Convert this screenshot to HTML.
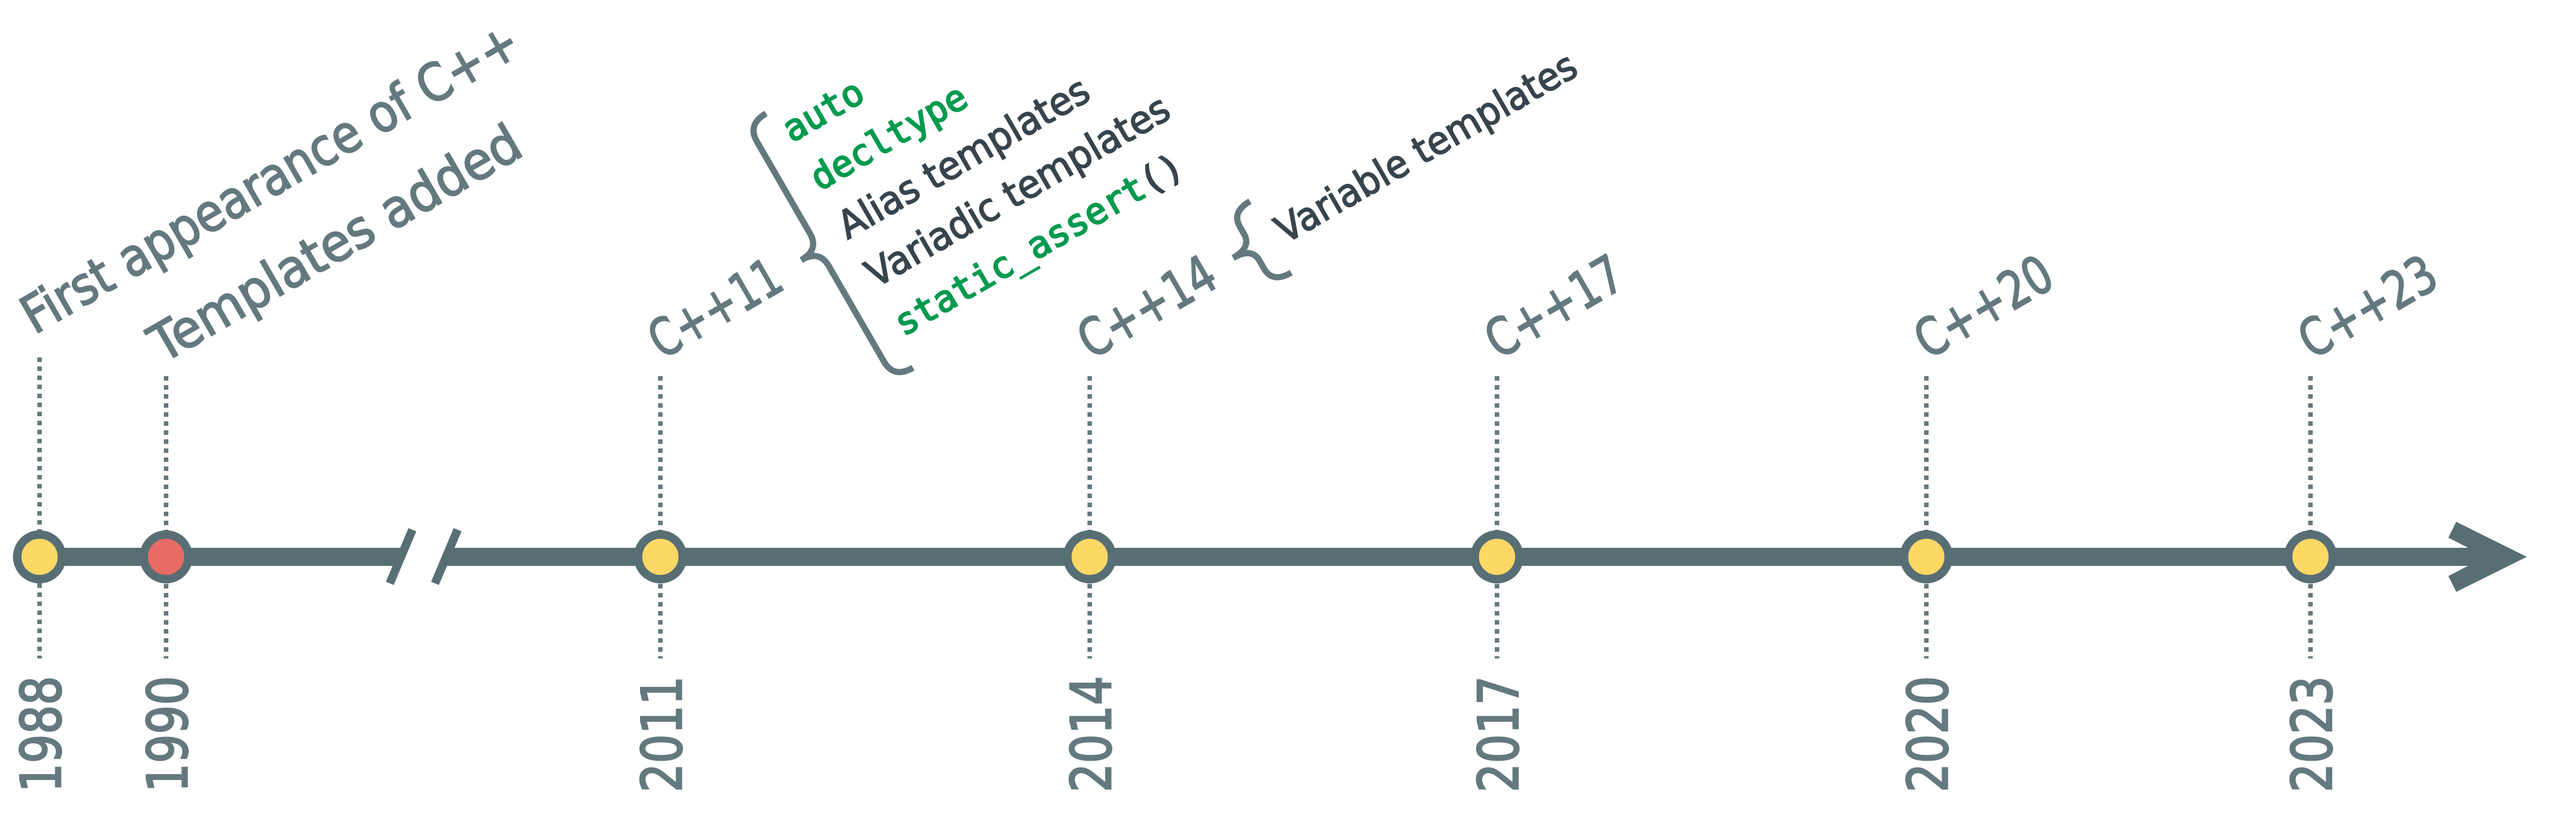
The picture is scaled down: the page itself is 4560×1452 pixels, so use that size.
<!DOCTYPE html>
<html><head><meta charset="utf-8"><style>
html,body{margin:0;padding:0;background:#fff}
svg{display:block}
</style></head><body>
<svg width="4560" height="1452" viewBox="0 0 4560 1452" xmlns="http://www.w3.org/2000/svg">
<rect width="4560" height="1452" fill="#fff"/>
<g stroke="#64797f" stroke-width="8" stroke-dasharray="8 8">
<line x1="70" y1="633" x2="70" y2="1166"/>
<line x1="294" y1="666" x2="294" y2="1166"/>
<line x1="1169" y1="666" x2="1169" y2="1166"/>
<line x1="1929" y1="666" x2="1929" y2="1166"/>
<line x1="2650" y1="666" x2="2650" y2="1166"/>
<line x1="3410" y1="666" x2="3410" y2="1166"/>
<line x1="4090" y1="666" x2="4090" y2="1166"/>
</g>
<g fill="#586e75">
<rect x="70" y="970" width="640" height="32"/>
<rect x="790" y="970" width="3585" height="32"/>
<polygon points="4348,924 4473,986 4348,1048 4334,1020 4369,1002 4369,970 4334,952"/>
</g>
<g stroke="#586e75" stroke-width="15">
<line x1="690" y1="1033" x2="730" y2="938"/>
<line x1="770" y1="1033" x2="810" y2="938"/>
</g>
<g stroke="#586e75" stroke-width="15" fill="#fdd865">
<circle cx="70" cy="986" r="39.5"/>
<circle cx="294" cy="986" r="39.5" fill="#e96b66"/>
<circle cx="1169" cy="986" r="39.5"/>
<circle cx="1929" cy="986" r="39.5"/>
<circle cx="2650" cy="986" r="39.5"/>
<circle cx="3410" cy="986" r="39.5"/>
<circle cx="4090" cy="986" r="39.5"/>
</g>
<g font-family="DejaVu Sans, sans-serif" font-size="98" fill="#64797f" stroke="#64797f" stroke-width="3">
<text transform="translate(107,1403) rotate(-90)" textLength="206" lengthAdjust="spacingAndGlyphs">1988</text>
<text transform="translate(331,1403) rotate(-90)" textLength="206" lengthAdjust="spacingAndGlyphs">1990</text>
<text transform="translate(1206,1403) rotate(-90)" textLength="206" lengthAdjust="spacingAndGlyphs">2011</text>
<text transform="translate(1966,1403) rotate(-90)" textLength="206" lengthAdjust="spacingAndGlyphs">2014</text>
<text transform="translate(2687,1403) rotate(-90)" textLength="206" lengthAdjust="spacingAndGlyphs">2017</text>
<text transform="translate(3447,1403) rotate(-90)" textLength="206" lengthAdjust="spacingAndGlyphs">2020</text>
<text transform="translate(4127,1403) rotate(-90)" textLength="206" lengthAdjust="spacingAndGlyphs">2023</text>
</g>
<g font-family="DejaVu Sans, sans-serif" font-size="92" fill="#64797f" stroke="#64797f" stroke-width="2.5">
<text transform="translate(61,593) rotate(-30)" textLength="1000" lengthAdjust="spacingAndGlyphs">First appearance of C++</text>
<text transform="translate(288,644) rotate(-30)" textLength="742" lengthAdjust="spacingAndGlyphs">Templates added</text>
<text transform="translate(1172,637) rotate(-30)" textLength="254" lengthAdjust="spacingAndGlyphs">C++11</text>
<text transform="translate(1932,637) rotate(-30)" textLength="264" lengthAdjust="spacingAndGlyphs">C++14</text>
<text transform="translate(2653,637) rotate(-30)" textLength="264" lengthAdjust="spacingAndGlyphs">C++17</text>
<text transform="translate(3413,637) rotate(-30)" textLength="264" lengthAdjust="spacingAndGlyphs">C++20</text>
<text transform="translate(4093,637) rotate(-30)" textLength="264" lengthAdjust="spacingAndGlyphs">C++23</text>
</g>
<g transform="rotate(-30)">
<g fill="none" stroke="#64797f" stroke-width="11">
<path d="M1074,852 Q1035,852 1035,887 L1035,1075 Q1035,1108 998,1108 Q1035,1108 1035,1141 L1035,1337 Q1035,1372 1074,1372"/>
<path d="M1738,1415 Q1700,1415 1700,1445 L1700,1460 Q1700,1487 1662,1487 Q1700,1487 1700,1514 L1700,1531 Q1700,1561 1738,1561"/>
</g>
<g font-family="DejaVu Sans Mono, Liberation Mono, monospace" font-size="64" fill="#009a4e" stroke="#009a4e" stroke-width="2.5">
<text x="1087" y="920" textLength="154" lengthAdjust="spacingAndGlyphs">auto</text>
<text x="1087" y="1019" textLength="308" lengthAdjust="spacingAndGlyphs">decltype</text>
<text x="1087" y="1316" textLength="578" lengthAdjust="spacingAndGlyphs">static_assert<tspan fill="#37444c" stroke="#37444c">()</tspan></text>
</g>
<g font-family="DejaVu Sans, sans-serif" font-size="68" fill="#37444c" stroke="#37444c" stroke-width="2">
<text x="1087" y="1118" textLength="501" lengthAdjust="spacingAndGlyphs">Alias templates</text>
<text x="1087" y="1217" textLength="608" lengthAdjust="spacingAndGlyphs">Variadic templates</text>
<text x="1754" y="1512" textLength="603" lengthAdjust="spacingAndGlyphs">Variable templates</text>
</g>
</g>
</svg>
</body></html>
